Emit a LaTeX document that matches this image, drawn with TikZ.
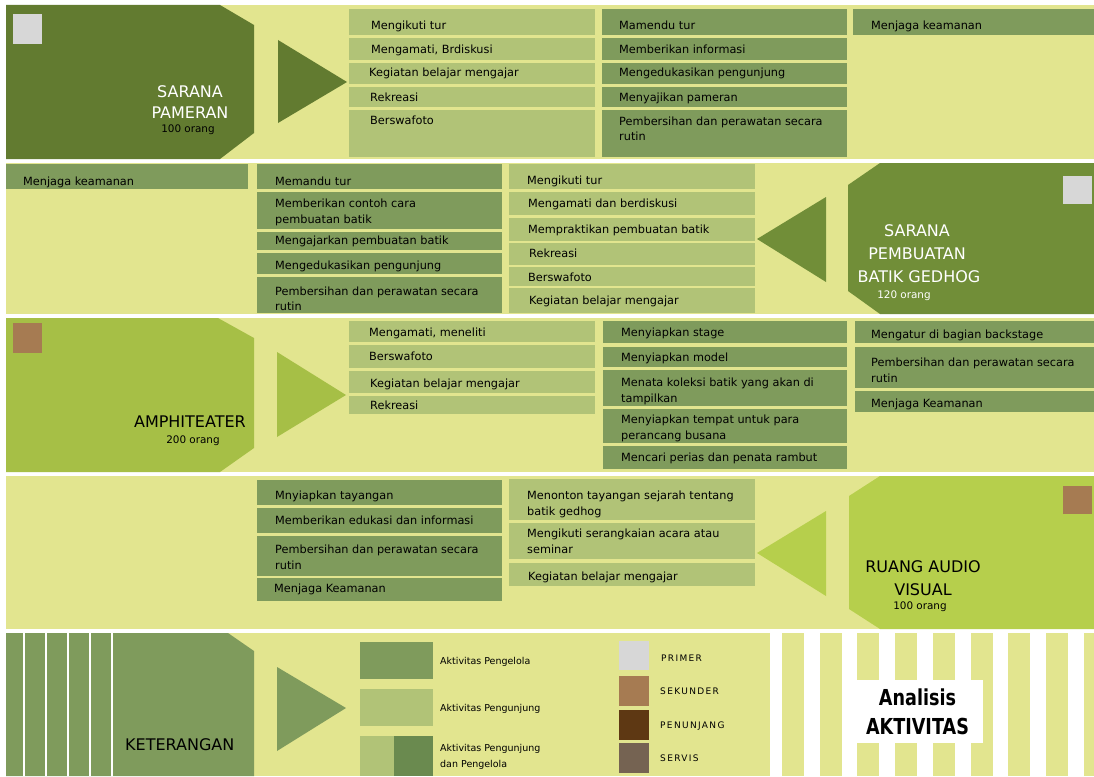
\documentclass[tikz,border=0pt]{standalone}
\usepackage{fontspec}
\setmainfont{DejaVu Sans}
\newfontfamily\judulfont[FakeStretch=0.8]{DejaVu Sans}
\newfontfamily\jarangfont[LetterSpace=15]{DejaVu Sans}

\definecolor{latar}{HTML}{E2E58F}
\definecolor{hijautua}{HTML}{627B30}
\definecolor{hijausedang}{HTML}{718E38}
\definecolor{hijaumuda}{HTML}{A6BF46}
\definecolor{hijaucerah}{HTML}{B6CF4C}
\definecolor{pengelola}{HTML}{7F9B5C}
\definecolor{pengunjung}{HTML}{B1C377}
\definecolor{campur}{HTML}{6A8A4F}
\definecolor{primer}{HTML}{D7D7D7}
\definecolor{sekunder}{HTML}{A67B52}
\definecolor{penunjang}{HTML}{5E3813}
\definecolor{servis}{HTML}{756352}

\begin{document}
\begin{tikzpicture}[x=1pt,y=-1pt,
	kunjung/.style={fill=pengunjung},
	kelola/.style={fill=pengelola},
	teks/.style={anchor=base west, inner sep=0pt, font=\fontsize{11.3}{13}\selectfont},
	judul/.style={anchor=base, inner sep=0pt, font=\fontsize{16}{18}\selectfont},
	orang/.style={anchor=base, inner sep=0pt, font=\fontsize{10.4}{12}\selectfont},
	ket/.style={anchor=base west, inner sep=0pt, font=\fontsize{9.5}{11}\selectfont},
	kelas/.style={anchor=base west, inner sep=0pt, font=\jarangfont\fontsize{9}{11}\selectfont}]
		\useasboundingbox (0,0) rectangle (1094,776);
		\fill[white] (0,0) rectangle (1094,776);

		% sarana pameran
		\fill[latar] (6,5) rectangle (1094,159);
		\fill[hijautua] (6,5) -- (220,5) -- (254,25) -- (254,133) -- (220,159) -- (6,159) -- cycle;
		\fill[primer] (13,14) rectangle (42,44);
		\node[judul, white] (pameran1) at (190,97) {SARANA};
		\node[judul, white] (pameran2) at (190,118) {PAMERAN};
		\node[orang] (pameran3) at (188,132) {100 orang};
		\fill[hijautua] (278,40) -- (278,123) -- (347,82) -- cycle;

		\fill[kunjung] (349,9) rectangle (595,35);
		\node[teks] (a1) at (371,30) {Mengikuti tur};
		\fill[kunjung] (349,38) rectangle (595,60);
		\node[teks] (a2) at (371,54) {Mengamati, Brdiskusi};
		\fill[kunjung] (349,63) rectangle (595,84);
		\node[teks] (a3) at (369,77) {Kegiatan belajar mengajar};
		\fill[kunjung] (349,87) rectangle (595,107);
		\node[teks] (a4) at (370,101) {Rekreasi};
		\fill[kunjung] (349,110) rectangle (595,157);
		\node[teks] (a5) at (370,124) {Berswafoto};

		\fill[kelola] (602,9) rectangle (847,35);
		\node[teks] (b1) at (619,30) {Mamendu tur};
		\fill[kelola] (602,38) rectangle (847,60);
		\node[teks] (b2) at (619,54) {Memberikan informasi};
		\fill[kelola] (602,63) rectangle (847,84);
		\node[teks] (b3) at (619,77) {Mengedukasikan pengunjung};
		\fill[kelola] (602,87) rectangle (847,107);
		\node[teks] (b4) at (619,101) {Menyajikan pameran};
		\fill[kelola] (602,110) rectangle (847,157);
		\node[teks] (b5) at (619,125) {Pembersihan dan perawatan secara};
		\node[teks] (b5b) at (619,140) {rutin};

		\fill[kelola] (853,9) rectangle (1094,35);
		\node[teks] (c1) at (871,30) {Menjaga keamanan};

		% sarana pembuatan batik gedhog
		\fill[latar] (6,163) rectangle (1094,314);
		\fill[kelola] (6,164) rectangle (248,189);
		\node[teks] (d1) at (23,185) {Menjaga keamanan};

		\fill[kelola] (257,164) rectangle (502,189);
		\node[teks] (e1) at (275,185) {Memandu tur};
		\fill[kelola] (257,192) rectangle (502,229);
		\node[teks] (e2) at (275,207) {Memberikan contoh cara};
		\node[teks] (e2b) at (275,223) {pembuatan batik};
		\fill[kelola] (257,232) rectangle (502,250);
		\node[teks] (e3) at (275,244) {Mengajarkan pembuatan batik};
		\fill[kelola] (257,253) rectangle (502,274);
		\node[teks] (e4) at (275,269) {Mengedukasikan pengunjung};
		\fill[kelola] (257,277) rectangle (502,313);
		\node[teks] (e5) at (275,295) {Pembersihan dan perawatan secara};
		\node[teks] (e5b) at (275,310) {rutin};

		\fill[kunjung] (509,164) rectangle (755,189);
		\node[teks] (f1) at (527,184) {Mengikuti tur};
		\fill[kunjung] (509,192) rectangle (755,215);
		\node[teks] (f2) at (528,207) {Mengamati dan berdiskusi};
		\fill[kunjung] (509,218) rectangle (755,241);
		\node[teks] (f3) at (528,233) {Mempraktikan pembuatan batik};
		\fill[kunjung] (509,243) rectangle (755,265);
		\node[teks] (f4) at (529,257) {Rekreasi};
		\fill[kunjung] (509,267) rectangle (755,286);
		\node[teks] (f5) at (528,281) {Berswafoto};
		\fill[kunjung] (509,288) rectangle (755,313);
		\node[teks] (f6) at (529,304) {Kegiatan belajar mengajar};

		\fill[hijausedang] (826,197) -- (826,282) -- (757,239) -- cycle;
		\fill[hijausedang] (1094,163) -- (880,163) -- (848,185) -- (848,291) -- (880,314) -- (1094,314) -- cycle;
		\fill[primer] (1063,176) rectangle (1092,204);
		\node[judul, white] (batik1) at (917,236) {SARANA};
		\node[judul, white] (batik2) at (917,259) {PEMBUATAN};
		\node[judul, white] (batik3) at (919,282) {BATIK GEDHOG};
		\node[orang, white] (batik4) at (904,298) {120 orang};

		% amphiteater
		\fill[latar] (6,318) rectangle (1094,472);
		\fill[hijaumuda] (6,318) -- (218,318) -- (254,338) -- (254,448) -- (220,472) -- (6,472) -- cycle;
		\fill[sekunder] (13,323) rectangle (42,353);
		\node[judul, anchor=base east] (amphi1) at (246,427) {AMPHITEATER};
		\node[orang] (amphi2) at (193,443) {200 orang};
		\fill[hijaumuda] (277,352) -- (277,437) -- (346,395) -- cycle;

		\fill[kunjung] (349,321) rectangle (595,342);
		\node[teks] (g1) at (369,336) {Mengamati, meneliti};
		\fill[kunjung] (349,345) rectangle (595,368);
		\node[teks] (g2) at (369,360) {Berswafoto};
		\fill[kunjung] (349,371) rectangle (595,393);
		\node[teks] (g3) at (370,387) {Kegiatan belajar mengajar};
		\fill[kunjung] (349,396) rectangle (595,414);
		\node[teks] (g4) at (370,409) {Rekreasi};

		\fill[kelola] (603,321) rectangle (847,343);
		\node[teks] (h1) at (621,336) {Menyiapkan stage};
		\fill[kelola] (603,347) rectangle (847,367);
		\node[teks] (h2) at (621,361) {Menyiapkan model};
		\fill[kelola] (603,370) rectangle (847,406);
		\node[teks] (h3) at (621,386) {Menata koleksi batik yang akan di};
		\node[teks] (h3b) at (621,402) {tampilkan};
		\fill[kelola] (603,409) rectangle (847,443);
		\node[teks] (h4) at (621,423) {Menyiapkan tempat untuk para};
		\node[teks] (h4b) at (621,439) {perancang busana};
		\fill[kelola] (603,446) rectangle (847,469);
		\node[teks] (h5) at (621,461) {Mencari perias dan penata rambut};

		\fill[kelola] (855,321) rectangle (1094,343);
		\node[teks] (i1) at (871,338) {Mengatur di bagian backstage};
		\fill[kelola] (855,347) rectangle (1094,388);
		\node[teks] (i2) at (871,366) {Pembersihan dan perawatan secara};
		\node[teks] (i2b) at (871,382) {rutin};
		\fill[kelola] (855,391) rectangle (1094,412);
		\node[teks] (i3) at (871,407) {Menjaga Keamanan};

		% ruang audio visual
		\fill[latar] (6,476) rectangle (1094,629);
		\fill[kelola] (257,480) rectangle (502,505);
		\node[teks] (j1) at (275,499) {Mnyiapkan tayangan};
		\fill[kelola] (257,508) rectangle (502,533);
		\node[teks] (j2) at (275,524) {Memberikan edukasi dan informasi};
		\fill[kelola] (257,536) rectangle (502,576);
		\node[teks] (j3) at (275,553) {Pembersihan dan perawatan secara};
		\node[teks] (j3b) at (275,569) {rutin};
		\fill[kelola] (257,578) rectangle (502,601);
		\node[teks] (j4) at (274,592) {Menjaga Keamanan};

		\fill[kunjung] (509,479) rectangle (755,520);
		\node[teks] (k1) at (527,499) {Menonton tayangan sejarah tentang};
		\node[teks] (k1b) at (527,515) {batik gedhog};
		\fill[kunjung] (509,523) rectangle (755,559);
		\node[teks] (k2) at (527,537) {Mengikuti serangkaian acara atau};
		\node[teks] (k2b) at (527,553) {seminar};
		\fill[kunjung] (509,563) rectangle (755,586);
		\node[teks] (k3) at (528,580) {Kegiatan belajar mengajar};

		\fill[hijaucerah] (826,511) -- (826,596) -- (757,553) -- cycle;
		\fill[hijaucerah] (1094,476) -- (880,476) -- (849,496) -- (849,609) -- (880,629) -- (1094,629) -- cycle;
		\fill[sekunder] (1063,486) rectangle (1092,514);
		\node[judul] (audio1) at (923,572) {RUANG AUDIO};
		\node[judul] (audio2) at (923,595) {VISUAL};
		\node[orang] (audio3) at (920,609) {100 orang};

		% keterangan
		\fill[latar] (6,633) rectangle (770,776);
		\fill[pengelola] (6,633) -- (228,633) -- (254,651) -- (254,776) -- (6,776) -- cycle;
		\draw[white, line width=2pt] (24,633) -- (24,776) (46,633) -- (46,776) (68,633) -- (68,776)
			(90,633) -- (90,776) (112,633) -- (112,776);
		\node[judul, anchor=base west] (ket0) at (125,750) {KETERANGAN};
		\fill[pengelola] (277,667) -- (277,751) -- (346,708) -- cycle;

		\fill[pengelola] (360,642) rectangle (433,679);
		\node[ket] (ket1) at (440,664) {Aktivitas Pengelola};
		\fill[pengunjung] (360,689) rectangle (433,726);
		\node[ket] (ket2) at (440,711) {Aktivitas Pengunjung};
		\fill[pengunjung] (360,736) rectangle (394,776);
		\fill[campur] (394,736) rectangle (433,776);
		\node[ket] (ket3) at (440,751) {Aktivitas Pengunjung};
		\node[ket] (ket3b) at (440,767) {dan Pengelola};

		\fill[primer] (619,641) rectangle (649,670);
		\node[kelas] (primer) at (661,661) {PRIMER};
		\fill[sekunder] (619,676) rectangle (649,706);
		\node[kelas] (sekunder) at (660,694) {SEKUNDER};
		\fill[penunjang] (619,710) rectangle (649,740);
		\node[kelas] (penunjang) at (660,728) {PENUNJANG};
		\fill[servis] (619,743) rectangle (649,773);
		\node[kelas] (servis) at (660,761) {SERVIS};

		% analisis aktivitas
		\foreach \i in {0,...,8}
			\fill[latar] (782+37.7*\i,633) rectangle ++(22,143);
		\node[fill=white, minimum width=131pt, minimum height=63pt, align=center,
			font=\judulfont\bfseries\fontsize{22}{29}\selectfont] (analisis) at (917.5,711.5) {Analisis\\AKTIVITAS};
	\end{tikzpicture}
\end{document}
